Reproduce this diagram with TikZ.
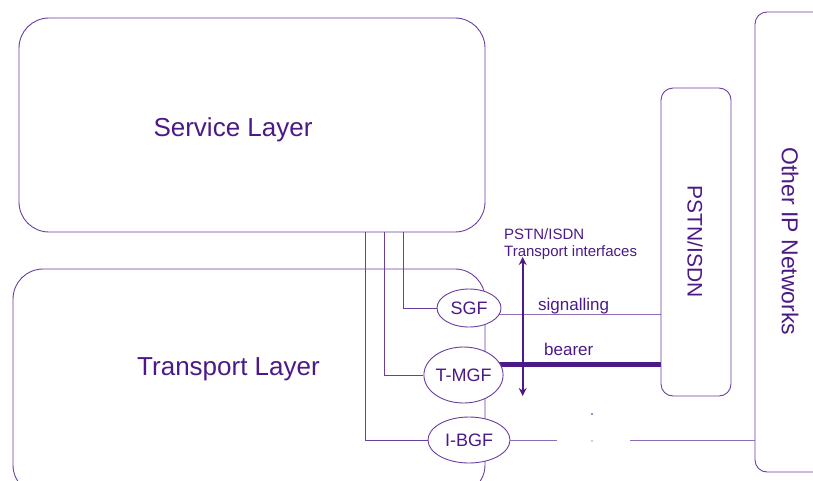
\documentclass[tikz,border=0pt]{standalone}
\usepackage{fontspec}
\setmainfont{Liberation Sans}
\usetikzlibrary{shapes.geometric,arrows.meta,backgrounds}
\definecolor{ptext}{HTML}{4B1A86}
\definecolor{pline}{HTML}{6A3E9E}
\definecolor{plight}{HTML}{8E6CB6}
\tikzset{
  layerbox/.style={draw=pline,line width=0.9pt,rounded corners=30pt,inner sep=0pt},
  netbox/.style={draw=pline,line width=0.9pt,rounded corners=12pt,inner sep=0pt},
  gw/.style={ellipse,draw=pline,fill=white,line width=0.9pt,inner sep=0pt,text=ptext,font=\fontsize{18}{18}\selectfont},
  conn/.style={draw=pline,line width=0.9pt},
  lbl/.style={text=ptext,inner sep=0pt},
}
\begin{document}
\begin{tikzpicture}[x=1pt,y=-1pt]
\useasboundingbox (0,0) rectangle (813,480);
\clip (0,0) rectangle (813,480);
% layers
\node[lbl,anchor=base,font=\fontsize{26}{26}\selectfont] (svct) at (233,136.7) {Service Layer};
\node[lbl,anchor=base,font=\fontsize{26}{26}\selectfont] (trnt) at (228.5,375) {Transport Layer};
% networks
\node[netbox,minimum width=70pt,minimum height=308pt] (pstn) at (696,242) {};
\node[lbl,rotate=-90,font=\fontsize{21}{21}\selectfont] (pstnt) at (695,241.5) {PSTN/ISDN};
\node[netbox,minimum width=90pt,minimum height=460pt] (oip) at (800,242) {};
\node[lbl,rotate=-90,font=\fontsize{23}{23}\selectfont] (oipt) at (790,241.5) {Other IP Networks};
% gateways
\node[gw,minimum width=64pt,minimum height=38pt] (sgf) at (469,308) {SGF};
\node[gw,minimum width=71pt,minimum height=56pt] (tmgf) at (463.5,375) {T-MGF};
\node[gw,minimum width=82pt,minimum height=46pt] (ibgf) at (469,440) {I-BGF};
\begin{scope}[on background layer]
\node[layerbox,minimum width=466pt,minimum height=214pt] (svc) at (252,125) {};
\node[layerbox,minimum width=472pt,minimum height=226pt] (trn) at (249,382) {};
% service to gateways
\coordinate (s1) at (403,232);
\coordinate (s2) at (384,232);
\coordinate (s3) at (365,232);
\draw[conn] (s1) |- (sgf.west);
\draw[conn] (s2) |- (tmgf.west);
\draw[conn] (s3) |- (ibgf.west);
% signalling and bearer
\draw[conn,draw=plight] (sgf.center |- 0,314) -- (pstn.west |- 0,314);
\draw[draw=ptext,line width=5pt] (tmgf.center |- 0,364) -- (pstn.west |- 0,364);
\end{scope}
\node[lbl,anchor=base west,font=\fontsize{17}{17}\selectfont] (sig) at (538,310.7) {signalling};
\node[lbl,anchor=base west,font=\fontsize{17}{17}\selectfont] (bear) at (544,355) {bearer};
% I-BGF line with gap
\coordinate (g1) at (557,440);
\coordinate (g2) at (630,440);
\draw[conn,draw=plight] (ibgf.east) -- (g1);
\draw[conn,draw=plight] (g2) -- (oip.west |- g2);
\fill[ptext] (592,414) circle (0.9pt);
\fill[ptext] (592,441) circle (0.7pt);
% interface arrow
\coordinate (a1) at (522.7,257);
\coordinate (a2) at (522.7,396);
\draw[draw=ptext,line width=1.6pt,{Stealth[length=8pt,width=8pt]}-{Stealth[length=8pt,width=8pt]}] (a1) -- (a2);
\node[lbl,anchor=base west,font=\fontsize{15}{15}\selectfont] (pit1) at (504,239) {PSTN/ISDN};
\node[lbl,anchor=base west,font=\fontsize{15}{15}\selectfont] (pit2) at (504,256.7) {Transport interfaces};
\end{tikzpicture}
\end{document}
